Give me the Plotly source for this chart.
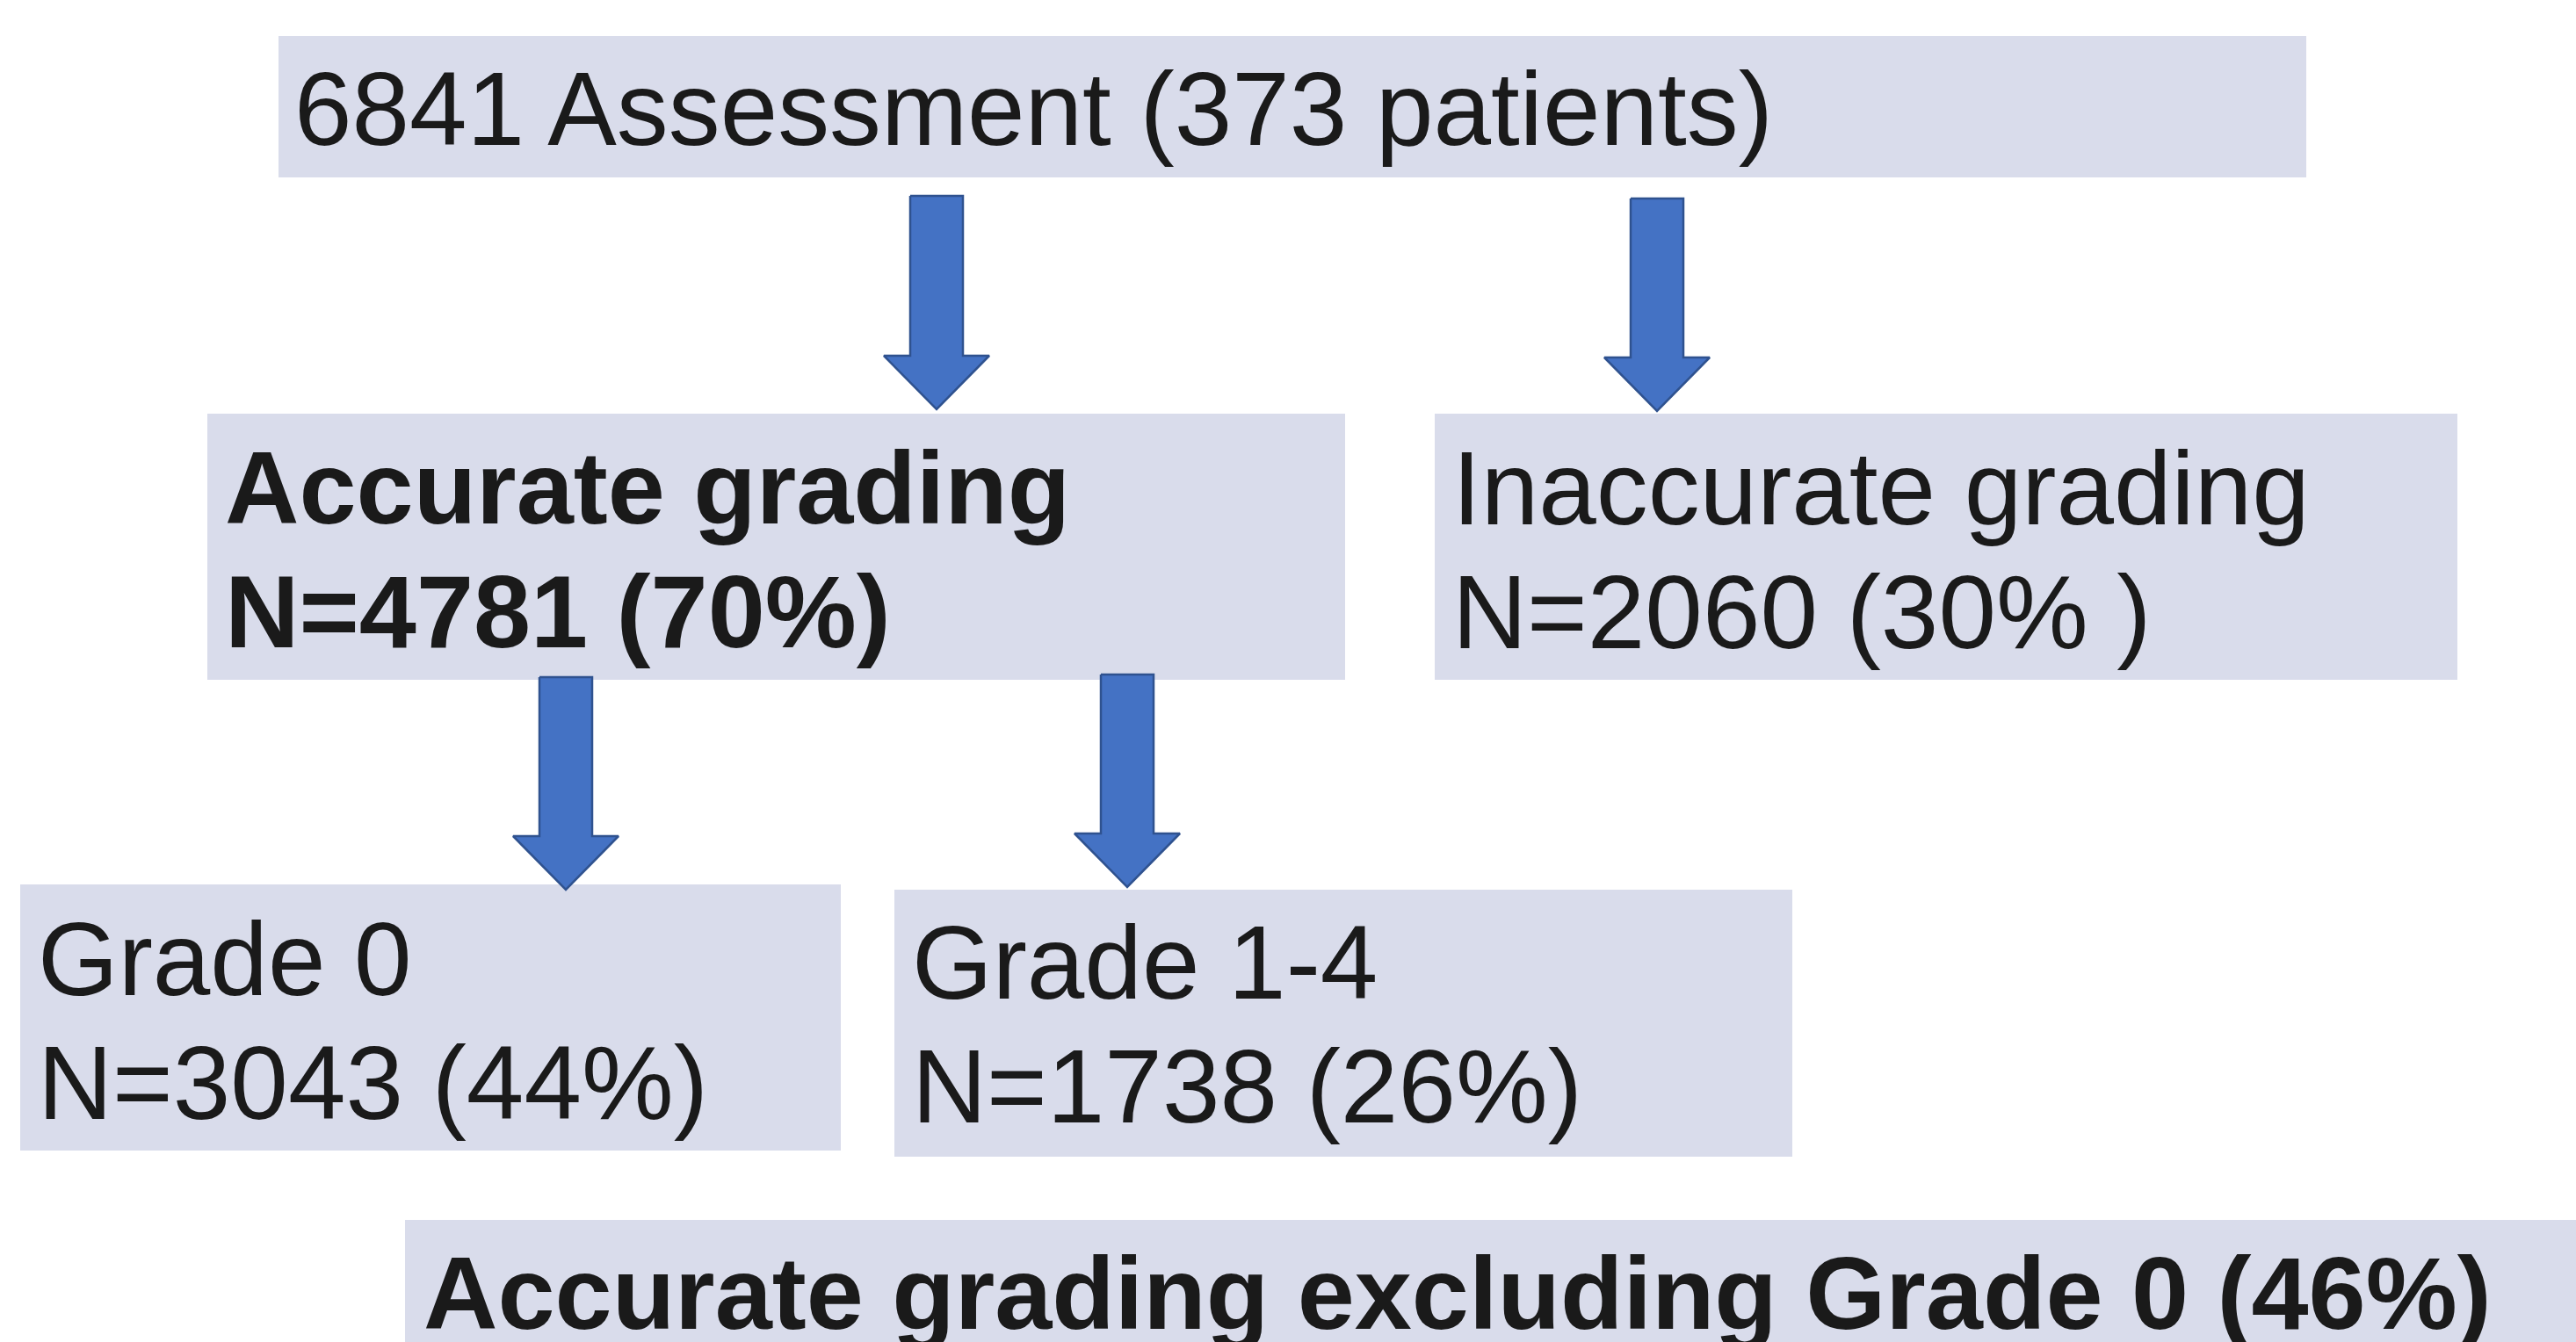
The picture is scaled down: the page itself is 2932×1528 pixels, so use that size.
import plotly.graph_objects as go

# ---------------- data ----------------
node_line1 = ["6841 Assessment (373 patients)", "Accurate grading", "Inaccurate grading",
              "Grade 0", "Grade 1-4", "Accurate grading excluding Grade 0 (46%)"]
node_line2 = ["", "N=4781 (70%)", "N=2060 (30% )", "N=3043 (44%)", "N=1738 (26%)", ""]
node_bold = [False, True, False, False, False, True]

# ---------------- layout geometry (pixels) ----------------
W, H = 2932, 1528
box_x0 = [317, 236, 1633, 23, 1018, 461]
box_x1 = [2625, 1531, 2797, 957, 2040, 2932]
box_y0 = [41, 471, 471, 1007, 1013, 1389]
box_y1 = [202, 774, 774, 1310, 1317, 1540]
text_x = [333, 254, 1651, 41, 1036, 480]
base1 = [165, 596, 597, 1133, 1137, 1513]
LINE_GAP = 141

arrow_cx = [1066, 1886, 644, 1283]
arrow_top = [223, 226, 771, 768]
arrow_tip = [466, 468, 1013, 1010]
SHAFT_W, HEAD_W, HEAD_L = 60, 120, 61

BOX_FILL = "#D9DCEB"
ARROW_FILL = "#4472C4"
ARROW_LINE = "#2F528F"
TEXT_COLOR = "#1A1A1A"
FONT = "Liberation Sans, Arial, sans-serif"
FS_REG, FS_BOLD = 117.8, 117

fig = go.Figure()

# boxes
for x0, x1, y0, y1 in zip(box_x0, box_x1, box_y0, box_y1):
    fig.add_shape(type="rect", x0=x0, x1=x1, y0=y0, y1=y1, xref="x", yref="y",
                  fillcolor=BOX_FILL, line=dict(width=0), layer="below")

# arrows
for cx, yt, yp in zip(arrow_cx, arrow_top, arrow_tip):
    hb = yp - HEAD_L
    xs = [cx - SHAFT_W / 2, cx + SHAFT_W / 2, cx + SHAFT_W / 2, cx + HEAD_W / 2, cx,
          cx - HEAD_W / 2, cx - SHAFT_W / 2, cx - SHAFT_W / 2]
    ys = [yt, yt, hb, hb, yp, hb, hb, yt]
    fig.add_trace(go.Scatter(x=xs, y=ys, mode="lines", fill="toself",
                             fillcolor=ARROW_FILL, line=dict(color=ARROW_LINE, width=2.5),
                             hoverinfo="skip", showlegend=False))

# text
for i in range(len(node_line1)):
    fs = FS_BOLD if node_bold[i] else FS_REG
    off = 0.3465 * fs
    for j, t in enumerate([node_line1[i], node_line2[i]]):
        if not t:
            continue
        txt = f"<b>{t}</b>" if node_bold[i] else t
        fig.add_annotation(x=text_x[i], y=base1[i] + j * LINE_GAP - off, xref="x", yref="y",
                           text=txt, showarrow=False, xanchor="left", yanchor="middle",
                           align="left", font=dict(family=FONT, size=fs, color=TEXT_COLOR))

fig.update_layout(width=W, height=H, autosize=False,
                  margin=dict(l=0, r=0, t=0, b=0, pad=0),
                  paper_bgcolor="white", plot_bgcolor="white", showlegend=False)
fig.update_xaxes(range=[0, W], visible=False, fixedrange=True)
fig.update_yaxes(range=[H, 0], visible=False, fixedrange=True)

fig.write_html("out.html", config={"displayModeBar": False},
               post_script="document.body.style.margin='0';document.body.style.overflow='hidden';")
